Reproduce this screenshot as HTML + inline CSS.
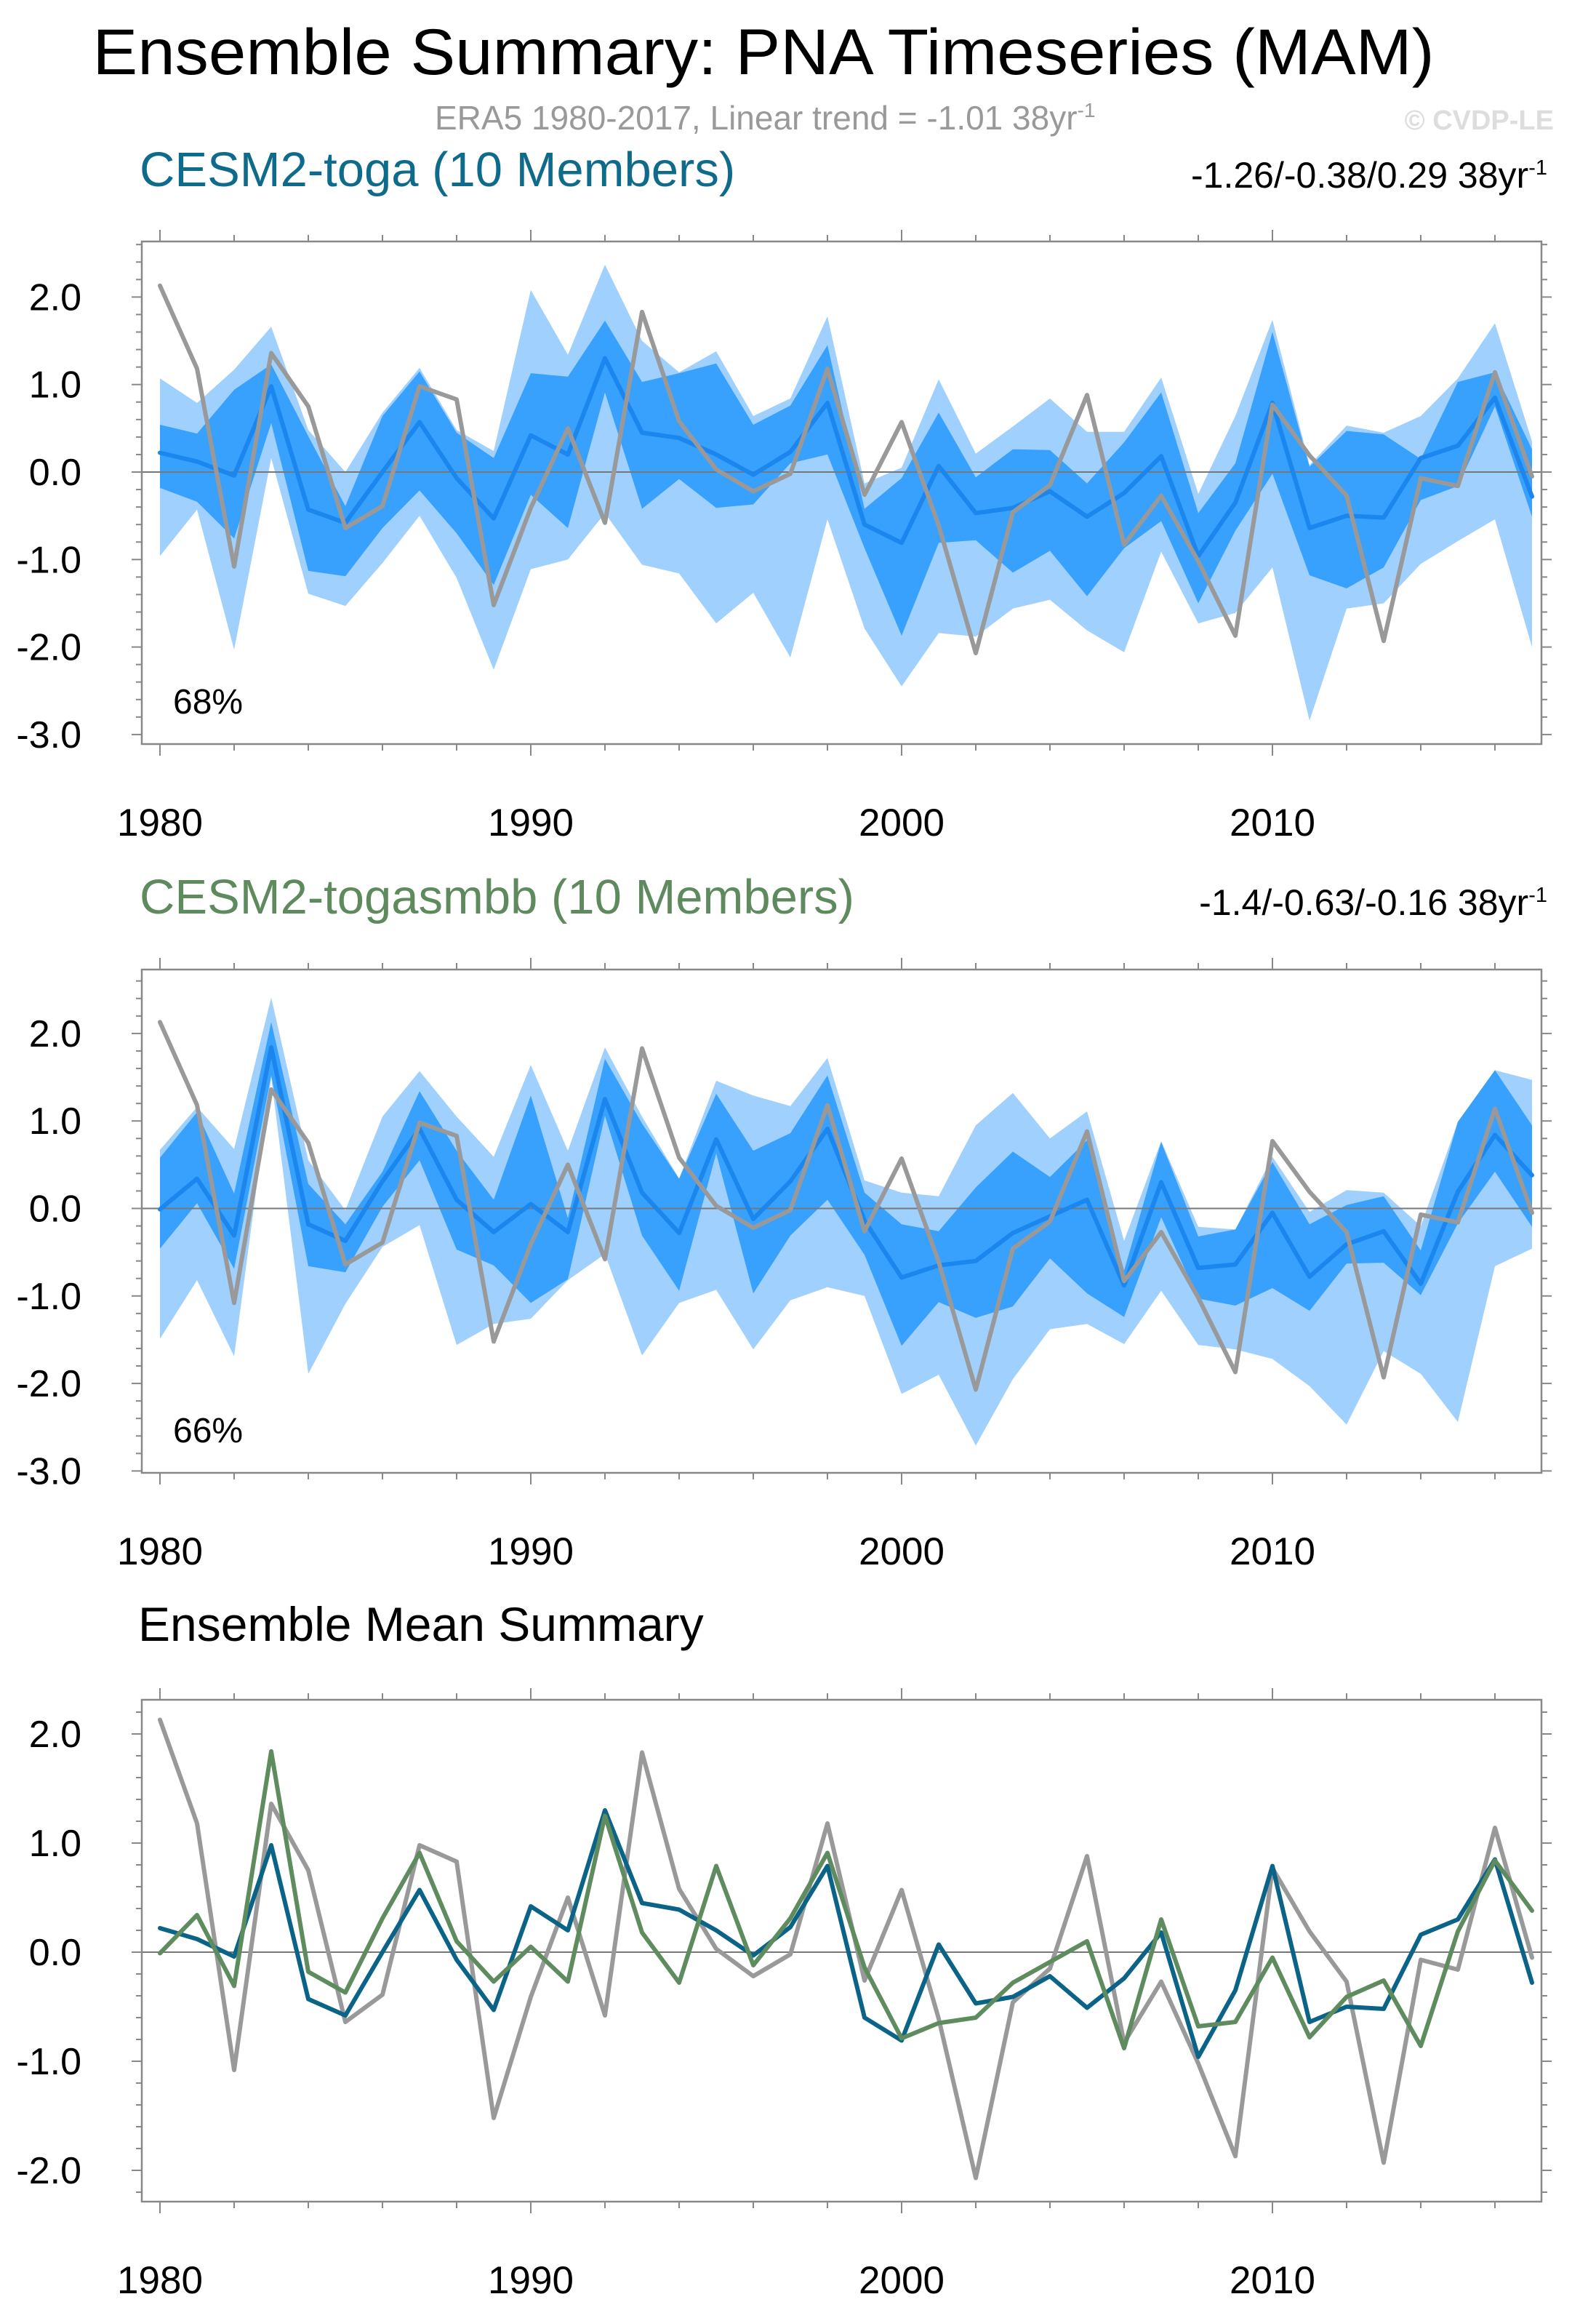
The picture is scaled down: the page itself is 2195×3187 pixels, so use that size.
<!DOCTYPE html>
<html><head><meta charset="utf-8"><style>
html,body{margin:0;padding:0;background:#fff;}
svg{display:block;font-family:"Liberation Sans",sans-serif;}
</style></head><body>
<svg id="chart" width="2195" height="3187" viewBox="0 0 2195 3187" xmlns="http://www.w3.org/2000/svg">
<rect x="0" y="0" width="2195" height="3187" fill="#fff"/>
<text x="1050" y="102" font-size="89" text-anchor="middle" textLength="1845" lengthAdjust="spacingAndGlyphs">Ensemble Summary: PNA Timeseries (MAM)</text>
<text x="598" y="178" font-size="46" fill="#999">ERA5 1980-2017, Linear trend = -1.01 38yr<tspan font-size="28" dy="-17">-1</tspan></text>
<text x="2137" y="178" font-size="38" fill="#ddd" font-weight="bold" text-anchor="end">© CVDP-LE</text>
<text x="192" y="256" font-size="67" fill="#0f6b8c">CESM2-toga (10 Members)</text>
<text x="2128" y="258" font-size="50" text-anchor="end">-1.26/-0.38/0.29 38yr<tspan font-size="29" dy="-18">-1</tspan></text>
<text x="192" y="1256" font-size="67" fill="#5e8a5e">CESM2-togasmbb (10 Members)</text>
<text x="2128" y="1258" font-size="50" text-anchor="end">-1.4/-0.63/-0.16 38yr<tspan font-size="29" dy="-18">-1</tspan></text>
<text x="190" y="2256" font-size="66">Ensemble Mean Summary</text>
</svg>
<script>
const years = [];
for (let y = 1980; y <= 2017; y++) years.push(y);
const era5 = [2.13,1.18,-1.08,1.36,0.75,-0.64,-0.39,0.98,0.83,-1.52,-0.41,0.50,-0.58,1.83,0.58,0.03,-0.22,-0.02,1.18,-0.26,0.57,-0.61,-2.07,-0.46,-0.15,0.88,-0.83,-0.27,-1.02,-1.87,0.77,0.19,-0.27,-1.93,-0.07,-0.16,1.14,-0.05];
const togaMean = [0.22,0.12,-0.04,0.98,-0.43,-0.58,0.0,0.57,-0.07,-0.53,0.42,0.20,1.30,0.45,0.39,0.20,-0.03,0.23,0.79,-0.60,-0.81,0.07,-0.47,-0.41,-0.22,-0.51,-0.24,0.18,-0.96,-0.35,0.79,-0.64,-0.50,-0.52,0.16,0.30,0.85,-0.28];
const togaLightUp = [1.07,0.79,1.17,1.66,0.48,0.00,0.68,1.19,0.48,0.24,2.08,1.34,2.37,1.50,1.14,1.38,0.64,0.84,1.78,-0.13,0.05,1.06,0.21,0.52,0.84,0.46,0.46,1.08,-0.25,0.64,1.74,0.08,0.53,0.45,0.64,1.07,1.70,0.35];
const togaDarkUp = [0.54,0.44,0.94,1.23,0.41,-0.39,0.64,1.15,0.45,0.16,1.13,1.09,1.73,1.03,1.13,1.24,0.54,0.76,1.45,-0.42,-0.07,0.68,-0.06,0.26,0.25,-0.13,0.34,0.91,-0.47,0.10,1.60,0.06,0.47,0.43,0.15,1.03,1.14,0.26];
const togaDarkLo = [-0.18,-0.34,-0.76,0.56,-1.13,-1.19,-0.64,-0.21,-0.70,-1.29,-0.26,-0.64,0.91,-0.42,-0.08,-0.41,-0.37,0.10,0.20,-0.87,-1.87,-0.81,-0.78,-1.15,-0.90,-1.42,-0.87,-0.56,-1.50,-0.67,-0.02,-1.18,-1.33,-1.09,-0.32,-0.16,0.75,-0.51];
const togaLightLo = [-0.96,-0.43,-2.03,0.16,-1.39,-1.53,-1.04,-0.50,-1.21,-2.26,-1.11,-1.00,-0.47,-1.06,-1.16,-1.73,-1.38,-2.12,-0.54,-1.79,-2.45,-1.84,-1.88,-1.56,-1.46,-1.81,-2.06,-0.91,-1.73,-1.61,-1.09,-2.84,-1.56,-1.50,-1.05,-0.79,-0.54,-2.00];
const smbbMean = [-0.01,0.34,-0.31,1.84,-0.18,-0.37,0.31,0.91,0.10,-0.27,0.05,-0.27,1.25,0.18,-0.28,0.79,-0.12,0.31,0.91,-0.14,-0.79,-0.65,-0.60,-0.28,-0.09,0.10,-0.88,0.30,-0.68,-0.64,-0.05,-0.78,-0.41,-0.26,-0.86,0.19,0.84,0.38];
const smbbLightUp = [0.67,1.16,0.68,2.41,0.55,-0.02,1.05,1.57,1.05,0.59,1.64,0.66,1.84,1.05,0.34,1.46,1.29,1.17,1.72,0.32,0.18,0.14,0.95,1.32,0.80,1.11,-0.37,0.77,-0.21,-0.24,0.59,-0.04,0.21,0.18,-0.20,0.99,1.58,1.47];
const smbbDarkUp = [0.58,1.10,0.17,2.13,0.28,-0.18,0.42,1.34,0.66,0.10,1.29,-0.11,1.71,0.97,0.34,1.31,0.66,0.86,1.52,0.18,-0.18,-0.26,0.24,0.65,0.36,0.78,-0.71,0.76,-0.32,-0.24,0.53,-0.18,0.04,0.14,-0.48,0.99,1.58,0.95];
const smbbDarkLo = [-0.46,0.06,-0.69,1.52,-0.66,-0.73,0.02,0.55,-0.47,-0.65,-1.08,-0.81,1.06,-0.31,-0.94,0.63,-0.97,-0.31,0.10,-0.53,-1.57,-1.07,-1.25,-1.12,-0.57,-0.97,-1.24,-0.10,-1.03,-1.11,-0.91,-1.17,-0.63,-0.62,-0.99,-0.17,0.42,-0.21];
const smbbLightLo = [-1.49,-0.82,-1.69,1.50,-1.89,-1.09,-0.44,-0.19,-1.56,-1.32,-1.26,-0.82,-0.52,-1.68,-1.08,-0.93,-1.61,-1.05,-0.90,-1.00,-2.12,-1.90,-2.71,-1.95,-1.38,-1.32,-1.55,-0.94,-1.56,-1.61,-1.72,-2.03,-2.47,-1.63,-1.89,-2.44,-0.66,-0.46];
const yTicks12 = [2.0,1.0,0.0,-1.0,-2.0,-3.0];
const yTicks3 = [2.0,1.0,0.0,-1.0,-2.0];
const xTickLabels = [1980,1990,2000,2010];
const pctLabels = ["68%","66%"];

const NS = "http://www.w3.org/2000/svg";
const svg = document.getElementById("chart");
function mk(tag, attrs, parent) {
  const e = document.createElementNS(NS, tag);
  for (const k in attrs) e.setAttribute(k, attrs[k]);
  (parent || svg).appendChild(e);
  return e;
}
const L = 195, R = 2120;
const xS = yr => 220 + (yr - 1980) * 51;

function makePanel(p) {
  const g = mk("g", {});
  
  
  const yS = v => p.zero - v * p.unit;
  const ptsOf = arr => arr.map((v, i) => xS(years[i]) + "," + yS(v).toFixed(1));
  function band(up, lo, fill, nm) {
    const pts = ptsOf(up).concat(ptsOf(lo).reverse());
    const e = mk("polygon", {points: pts.join(" "), fill: fill}, g);
    
    
  }
  if (p.bands) {
    band(p.bands[0], p.bands[3], "#9fd0fe", "outer-spread-band");
    band(p.bands[1], p.bands[2], "#38a0fd", "inner-spread-band");
  }
  const zl = mk("line", {x1: L, x2: R, y1: yS(0), y2: yS(0), stroke: "#777", "stroke-width": 2}, g);
  
  
  p.lines.forEach(ln => {
    const e = mk("polyline", {points: ptsOf(ln.data).join(" "), fill: "none", stroke: ln.color, "stroke-width": ln.w, "stroke-linejoin": "round", "stroke-linecap": "round"}, g);
    
    
  });
  const frame = mk("rect", {x: L, y: p.top, width: R - L, height: p.bottom - p.top, fill: "none", stroke: "#888", "stroke-width": 2.5}, g);
  
  
  const vTop = (p.zero - p.top) / p.unit, vBot = (p.zero - p.bottom) / p.unit;
  for (let k = Math.ceil(vBot * 5); k <= Math.floor(vTop * 5); k++) {
    const major = k % 5 === 0;
    const y = yS(k / 5);
    const len = major ? 14 : 8;
    mk("line", {x1: L - len, x2: L, y1: y, y2: y, stroke: "#888", "stroke-width": 2}, g);
    mk("line", {x1: R, x2: R + len, y1: y, y2: y, stroke: "#888", "stroke-width": 2}, g);
  }
  for (let yr = 1980; yr <= 2018; yr += 2) {
    const major = (yr % 10 === 0);
    const len = major ? 16 : 9;
    const x = xS(yr);
    if (x > R) continue;
    mk("line", {x1: x, x2: x, y1: p.bottom, y2: p.bottom + len, stroke: "#888", "stroke-width": 2}, g);
    mk("line", {x1: x, x2: x, y1: p.top - len, y2: p.top, stroke: "#888", "stroke-width": 2}, g);
  }
  p.yTicks.forEach(v => {
    const t = mk("text", {x: 112, y: yS(v) + 18, "font-size": 52, "text-anchor": "end"}, g);
    t.textContent = v.toFixed(1);
    
    
  });
  xTickLabels.forEach(yr => {
    const t = mk("text", {x: xS(yr), y: p.bottom + 126, "font-size": 53, "text-anchor": "middle"}, g);
    t.textContent = yr;
    
    
  });
  if (p.pct) {
    const t = mk("text", {x: 238, y: p.bottom - 42, "font-size": 48}, g);
    t.textContent = p.pct;
    
    
  }
}

makePanel({name: "panel-cesm2-toga", top: 332, bottom: 1023, zero: 649, unit: 120.3, yTicks: yTicks12, pct: pctLabels[0],
  bands: [togaLightUp, togaDarkUp, togaDarkLo, togaLightLo],
  lines: [{data: togaMean, color: "#1a86ee", w: 6, name: "toga-ensemble-mean-line"},
          {data: era5, color: "#999", w: 6, name: "era5-line"}]});
makePanel({name: "panel-cesm2-togasmbb", top: 1333, bottom: 2025, zero: 1661.5, unit: 120.3, yTicks: yTicks12, pct: pctLabels[1],
  bands: [smbbLightUp, smbbDarkUp, smbbDarkLo, smbbLightLo],
  lines: [{data: smbbMean, color: "#1a86ee", w: 6, name: "togasmbb-ensemble-mean-line"},
          {data: era5, color: "#999", w: 6, name: "era5-line"}]});
makePanel({name: "panel-ensemble-mean-summary", top: 2337, bottom: 3027, zero: 2684, unit: 150, yTicks: yTicks3, pct: null,
  bands: null,
  lines: [{data: era5, color: "#999", w: 6, name: "era5-line"},
          {data: togaMean, color: "#0b6488", w: 6, name: "toga-mean-line"},
          {data: smbbMean, color: "#5f8c5f", w: 6, name: "togasmbb-mean-line"}]});
</script>
</body></html>
